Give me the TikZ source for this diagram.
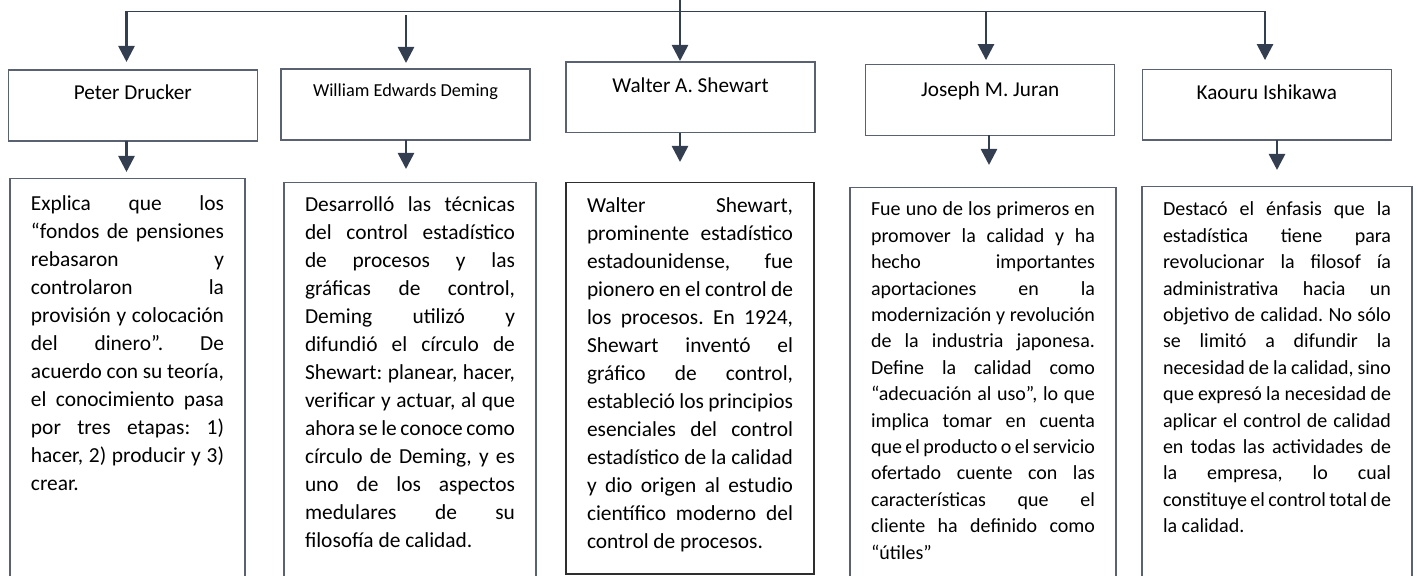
\documentclass[tikz,border=0pt]{standalone}
\usepackage{fontspec}
\setmainfont{Carlito}
\usetikzlibrary{arrows.meta,positioning}

\definecolor{arrowcol}{HTML}{333F50}
\definecolor{boxcol}{HTML}{5A6170}
\definecolor{boxdark}{HTML}{2E2E2E}

\newcommand\namefont{\fontsize{10.6}{13}\selectfont}
\newcommand\namesmall{\fontsize{9.15}{11}\selectfont}
\newcommand\descpar{\frenchspacing\spaceskip=.226em plus .4em minus .1em\relax\hyphenpenalty=10000\relax}
\newcommand\descfont{\fontsize{10.7}{14}\selectfont\descpar}
\newcommand\descsmall{\fontsize{10}{13.2}\selectfont\descpar}

\tikzset{
  namebox/.style={draw=boxcol, line width=0.75pt, anchor=north west, inner sep=0pt, outer sep=0pt,
    minimum width=124.5pt, text height=15pt, text depth=20.5pt, font=\namefont, align=center},
  descbox/.style={draw=boxcol, line width=0.75pt, anchor=north west, inner xsep=10.5pt, inner ysep=0pt,
    outer sep=0pt, font=\descfont, align=justify},
  arr/.style={draw=arrowcol, line width=1.3pt, -{Triangle[width=8pt,length=8pt]}},
  bus/.style={draw=arrowcol, line width=0.7pt}
}

\begin{document}
\begin{tikzpicture}[x=0.5pt,y=-0.5pt]
\useasboundingbox (0,0) rectangle (1417,576);
\clip (0,0) rectangle (1417,576);

\node[namebox] (nDrucker) at (8.3,70) {Peter Drucker};
\node[namebox, text height=13.85pt, text depth=21.65pt, font=\namesmall] (nDeming) at (281,69) {William Edwards Deming};
\node[namebox, text height=15.35pt, text depth=20pt] (nShewart) at (566,62) {Walter A. Shewart};
\node[namebox, text height=16pt, text depth=19.3pt] (nJuran) at (865.7,64.7) {Joseph M. Juran};
\node[namebox, text height=15.35pt, text depth=20pt] (nIshikawa) at (1142.3,69.3) {Kaouru Ishikawa};

\node[descbox, text width=96.5pt, text height=16pt, text depth=189.85pt] (dDrucker) at (10,178.3) {Explica que los\linebreak
“fondos de pensiones\linebreak
rebasaron y\linebreak
controlaron la\linebreak
provisión y colocación\linebreak
del dinero”. De\linebreak
acuerdo con su teoría,\linebreak
el conocimiento pasa\linebreak
por tres etapas: 1)\linebreak
hacer, 2) producir y 3)\linebreak
crear.};
\node[descbox, text width=105pt, text height=14.6pt, text depth=189.15pt] (dDeming) at (284,182.5) {Desarrolló las técnicas\linebreak
del control estadístico\linebreak
de procesos y las\linebreak
gráficas de control,\linebreak
Deming utilizó y\linebreak
difundió el círculo de\linebreak
Shewart: planear, hacer,\linebreak
verificar y actuar, al que\linebreak
ahora se le conoce como\linebreak
círculo de Deming, y es\linebreak
uno de los aspectos\linebreak
medulares de su\linebreak
filosofía de calidad.};
\node[descbox, draw=boxdark, text width=103pt, text height=15.15pt, text depth=180.5pt] (dShewart) at (566,182.7) {Walter Shewart,\linebreak
prominente estadístico\linebreak
estadounidense, fue\linebreak
pionero en el control de\linebreak
los procesos. En 1924,\linebreak
Shewart inventó el\linebreak
gráfico de control,\linebreak
estableció los principios\linebreak
esenciales del control\linebreak
estadístico de la calidad\linebreak
y dio origen al estudio\linebreak
científico moderno del\linebreak
control de procesos.};
\node[descbox, font=\descsmall, text width=112pt, text height=14.15pt, text depth=187pt] (dJuran) at (850,187.7) {Fue uno de los primeros en\linebreak
promover la calidad y ha\linebreak
hecho importantes\linebreak
aportaciones en la\linebreak
modernización y revolución\linebreak
de la industria japonesa.\linebreak
Define la calidad como\linebreak
“adecuación al uso”, lo que\linebreak
implica tomar en cuenta\linebreak
que el producto o el servicio\linebreak
ofertado cuente con las\linebreak
características que el\linebreak
cliente ha definido como\linebreak
“útiles”};
\node[descbox, font=\descsmall, text width=114pt, text height=14.65pt, text depth=187pt] (dIshikawa) at (1142,186.7) {Destacó el énfasis que la\linebreak
estadística tiene para\linebreak
revolucionar la filosof ía\linebreak
administrativa hacia un\linebreak
objetivo de calidad. No sólo\linebreak
se limitó a difundir la\linebreak
necesidad de la calidad, sino\linebreak
que expresó la necesidad de\linebreak
aplicar el control de calidad\linebreak
en todas las actividades de\linebreak
la empresa, lo cual\linebreak
constituye el control total de\linebreak
la calidad.};

\coordinate (top) at (680,0);
\coordinate (busL) at (126.5,11.5);
\coordinate (busR) at (1265,11.5);
\coordinate (busC) at (680,11.5);
\coordinate (busDm) at (406,15);
\coordinate (busJu) at (986,11.5);
\coordinate (lowJu) at (989,0);
\coordinate (lowIs) at (1277,0);

\draw[bus] (top) -- (busC);
\draw[bus] (busL) -- (busR);

\draw[arr, shorten >=4pt] (busL) -- (busL |- nDrucker.north);
\draw[arr, shorten >=3pt] (busDm) -- (busDm |- nDeming.north);
\draw[arr, shorten >=0.5pt] (busC) -- (busC |- nShewart.north);
\draw[arr, shorten >=2.3pt] (busJu) -- (busJu |- nJuran.north);
\draw[arr, shorten >=4.6pt] (busR) -- (busR |- nIshikawa.north);

\draw[arr, shorten >=3.15pt] (nDrucker.south -| busL) -- (dDrucker.north -| busL);
\draw[arr, shorten >=6.75pt] (nDeming.south -| busDm) -- (dDeming.north -| busDm);
\draw[arr, shorten >=10.35pt] (nShewart.south -| busC) -- (dShewart.north -| busC);
\draw[arr, shorten >=11.35pt] (nJuran.south -| lowJu) -- (dJuran.north -| lowJu);
\draw[arr, shorten >=8.35pt] (nIshikawa.south -| lowIs) -- (dIshikawa.north -| lowIs);
\end{tikzpicture}
\end{document}
